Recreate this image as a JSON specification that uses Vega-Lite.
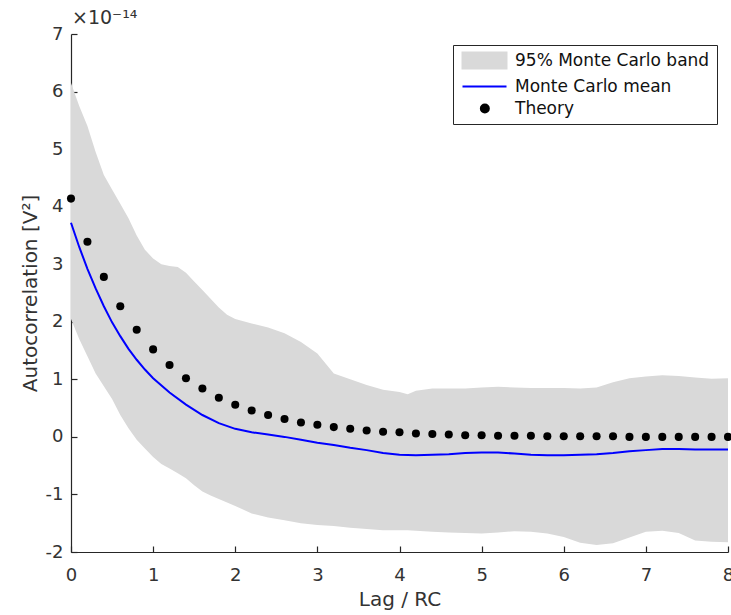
{
  "$schema": "https://vega.github.io/schema/vega-lite/v6.json",
  "width": 657,
  "height": 518,
  "autosize": "none",
  "padding": {"left": 71, "top": 34, "right": 3, "bottom": 63},
  "background": "white",
  "config": {
    "view": {"stroke": null},
    "font": "DejaVu Sans",
    "axis": {
      "domainColor": "#262626",
      "domainWidth": 1.2,
      "tickColor": "#262626",
      "tickWidth": 1.2,
      "tickSize": -6,
      "grid": false,
      "labelFlush": false,
      "labelOverlap": false,
      "labelFont": "DejaVu Sans",
      "labelFontSize": 18,
      "labelColor": "#333333",
      "titleFont": "DejaVu Sans",
      "titleFontSize": 20,
      "titleFontWeight": "normal",
      "titleColor": "#333333"
    }
  },
  "title": {
    "text": "×10⁻¹⁴",
    "anchor": "start",
    "frame": "group",
    "offset": 5,
    "dy": 8,
    "dx": 1,
    "fontSize": 19,
    "font": "DejaVu Sans",
    "fontWeight": "normal",
    "color": "#333333"
  },
  "datasets": {
    "band": [
      {"lag": 0, "lo": 2.05, "hi": 6.15},
      {"lag": 0.1, "lo": 1.7, "hi": 5.75},
      {"lag": 0.2, "lo": 1.4, "hi": 5.4},
      {"lag": 0.3, "lo": 1.1, "hi": 4.95},
      {"lag": 0.4, "lo": 0.88, "hi": 4.55},
      {"lag": 0.5, "lo": 0.66, "hi": 4.3},
      {"lag": 0.6, "lo": 0.38, "hi": 4.05},
      {"lag": 0.7, "lo": 0.15, "hi": 3.8},
      {"lag": 0.8, "lo": -0.05, "hi": 3.5},
      {"lag": 0.9, "lo": -0.2, "hi": 3.25},
      {"lag": 1.0, "lo": -0.35, "hi": 3.1},
      {"lag": 1.1, "lo": -0.47, "hi": 3.0},
      {"lag": 1.2, "lo": -0.55, "hi": 2.97},
      {"lag": 1.3, "lo": -0.63, "hi": 2.95},
      {"lag": 1.4, "lo": -0.72, "hi": 2.85},
      {"lag": 1.5, "lo": -0.84, "hi": 2.7},
      {"lag": 1.6, "lo": -0.95, "hi": 2.55},
      {"lag": 1.7, "lo": -1.02, "hi": 2.4},
      {"lag": 1.8, "lo": -1.08, "hi": 2.25},
      {"lag": 1.9, "lo": -1.14, "hi": 2.12},
      {"lag": 2.0, "lo": -1.2, "hi": 2.05},
      {"lag": 2.2, "lo": -1.33, "hi": 1.97},
      {"lag": 2.4, "lo": -1.4, "hi": 1.9},
      {"lag": 2.6, "lo": -1.45, "hi": 1.8},
      {"lag": 2.8, "lo": -1.5, "hi": 1.65},
      {"lag": 3.0, "lo": -1.53, "hi": 1.45},
      {"lag": 3.2, "lo": -1.55, "hi": 1.1},
      {"lag": 3.4, "lo": -1.58, "hi": 1.0},
      {"lag": 3.6, "lo": -1.6, "hi": 0.9},
      {"lag": 3.8, "lo": -1.62, "hi": 0.82},
      {"lag": 4.0, "lo": -1.62, "hi": 0.78},
      {"lag": 4.1, "lo": -1.62, "hi": 0.74},
      {"lag": 4.2, "lo": -1.63, "hi": 0.8},
      {"lag": 4.4, "lo": -1.65, "hi": 0.84},
      {"lag": 4.6, "lo": -1.66, "hi": 0.84},
      {"lag": 4.8, "lo": -1.67, "hi": 0.84},
      {"lag": 5.0, "lo": -1.68, "hi": 0.86},
      {"lag": 5.2, "lo": -1.66, "hi": 0.87},
      {"lag": 5.4, "lo": -1.64, "hi": 0.86},
      {"lag": 5.6, "lo": -1.65, "hi": 0.85},
      {"lag": 5.8, "lo": -1.68, "hi": 0.85},
      {"lag": 6.0, "lo": -1.74, "hi": 0.85},
      {"lag": 6.2, "lo": -1.84, "hi": 0.84},
      {"lag": 6.4, "lo": -1.88, "hi": 0.86},
      {"lag": 6.6, "lo": -1.85, "hi": 0.95},
      {"lag": 6.8, "lo": -1.75, "hi": 1.02},
      {"lag": 7.0, "lo": -1.65, "hi": 1.05},
      {"lag": 7.2, "lo": -1.63, "hi": 1.07},
      {"lag": 7.4, "lo": -1.67, "hi": 1.06},
      {"lag": 7.6, "lo": -1.8, "hi": 1.03},
      {"lag": 7.8, "lo": -1.82, "hi": 1.01},
      {"lag": 8.0, "lo": -1.83, "hi": 1.02}
    ],
    "mean": [
      {"lag": 0, "m": 3.72},
      {"lag": 0.1, "m": 3.3},
      {"lag": 0.2, "m": 2.92},
      {"lag": 0.3, "m": 2.58},
      {"lag": 0.4, "m": 2.27},
      {"lag": 0.5, "m": 1.99},
      {"lag": 0.6, "m": 1.75},
      {"lag": 0.7, "m": 1.53},
      {"lag": 0.8, "m": 1.34},
      {"lag": 0.9, "m": 1.17},
      {"lag": 1.0, "m": 1.02},
      {"lag": 1.2, "m": 0.77},
      {"lag": 1.4, "m": 0.56},
      {"lag": 1.6, "m": 0.38},
      {"lag": 1.8, "m": 0.24},
      {"lag": 2.0, "m": 0.14},
      {"lag": 2.2, "m": 0.08},
      {"lag": 2.4, "m": 0.04},
      {"lag": 2.6, "m": 0.0},
      {"lag": 2.8, "m": -0.05},
      {"lag": 3.0, "m": -0.1},
      {"lag": 3.2, "m": -0.14},
      {"lag": 3.4, "m": -0.19},
      {"lag": 3.6, "m": -0.23},
      {"lag": 3.8, "m": -0.28},
      {"lag": 4.0, "m": -0.31},
      {"lag": 4.2, "m": -0.32},
      {"lag": 4.4, "m": -0.31},
      {"lag": 4.6, "m": -0.3},
      {"lag": 4.8, "m": -0.28},
      {"lag": 5.0, "m": -0.27},
      {"lag": 5.2, "m": -0.27},
      {"lag": 5.4, "m": -0.29},
      {"lag": 5.6, "m": -0.31},
      {"lag": 5.8, "m": -0.32},
      {"lag": 6.0, "m": -0.32},
      {"lag": 6.2, "m": -0.31},
      {"lag": 6.4, "m": -0.3},
      {"lag": 6.6, "m": -0.28},
      {"lag": 6.8, "m": -0.25},
      {"lag": 7.0, "m": -0.23},
      {"lag": 7.2, "m": -0.21},
      {"lag": 7.4, "m": -0.21},
      {"lag": 7.6, "m": -0.22},
      {"lag": 7.8, "m": -0.22},
      {"lag": 8.0, "m": -0.22}
    ],
    "theory": [
      {"lag": 0, "t": 4.14},
      {"lag": 0.2, "t": 3.39},
      {"lag": 0.4, "t": 2.78},
      {"lag": 0.6, "t": 2.27},
      {"lag": 0.8, "t": 1.86},
      {"lag": 1.0, "t": 1.52},
      {"lag": 1.2, "t": 1.25},
      {"lag": 1.4, "t": 1.02},
      {"lag": 1.6, "t": 0.84},
      {"lag": 1.8, "t": 0.68},
      {"lag": 2.0, "t": 0.56},
      {"lag": 2.2, "t": 0.46},
      {"lag": 2.4, "t": 0.38},
      {"lag": 2.6, "t": 0.31},
      {"lag": 2.8, "t": 0.25},
      {"lag": 3.0, "t": 0.21},
      {"lag": 3.2, "t": 0.17},
      {"lag": 3.4, "t": 0.14},
      {"lag": 3.6, "t": 0.11},
      {"lag": 3.8, "t": 0.09},
      {"lag": 4.0, "t": 0.08},
      {"lag": 4.2, "t": 0.06},
      {"lag": 4.4, "t": 0.05},
      {"lag": 4.6, "t": 0.04},
      {"lag": 4.8, "t": 0.03},
      {"lag": 5.0, "t": 0.03},
      {"lag": 5.2, "t": 0.02},
      {"lag": 5.4, "t": 0.02},
      {"lag": 5.6, "t": 0.02},
      {"lag": 5.8, "t": 0.01},
      {"lag": 6.0, "t": 0.01},
      {"lag": 6.2, "t": 0.01},
      {"lag": 6.4, "t": 0.01},
      {"lag": 6.6, "t": 0.01},
      {"lag": 6.8, "t": 0.0},
      {"lag": 7.0, "t": 0.0},
      {"lag": 7.2, "t": 0.0},
      {"lag": 7.4, "t": 0.0},
      {"lag": 7.6, "t": 0.0},
      {"lag": 7.8, "t": 0.0},
      {"lag": 8.0, "t": 0.0}
    ]
  },
  "layer": [
    {
      "data": {"name": "band"},
      "mark": {"type": "area", "opacity": 1, "stroke": null},
      "encoding": {
        "x": {
          "field": "lag", "type": "quantitative",
          "scale": {"domain": [0, 8], "nice": false},
          "axis": {"title": "Lag / RC", "values": [0,1,2,3,4,5,6,7,8], "labelExpr": "'' + datum.value", "labelPadding": 20, "titlePadding": 5}
        },
        "y": {
          "field": "lo", "type": "quantitative",
          "scale": {"domain": [-2, 7], "nice": false, "zero": false},
          "axis": {"title": "Autocorrelation [V²]", "values": [-2,-1,0,1,2,3,4,5,6,7], "labelExpr": "'' + datum.value", "labelPadding": 14, "titlePadding": 5}
        },
        "y2": {"field": "hi"},
        "color": {
          "datum": "95% Monte Carlo band",
          "type": "nominal",
          "scale": {
            "domain": ["95% Monte Carlo band", "Monte Carlo mean", "Theory"],
            "range": ["#d9d9d9", "#0000ff", "#000000"]
          },
          "legend": {
            "title": null,
            "orient": "top-right",
            "offset": 11,
            "strokeColor": "#262626",
            "fillColor": "white",
            "padding": 7,
            "labelFont": "DejaVu Sans",
            "labelFontSize": 17,
            "labelColor": "#111111",
            "labelLimit": 400,
            "symbolSize": 100,
            "labelOffset": 38,
            "rowPadding": 4,
            "symbolStrokeWidth": 2,
            "encoding": {
              "symbols": {
                "shape": {"value": {"expr": "datum.value === 'Theory' ? 'M2.47,0A0.8,0.8,0,1,0,4.07,0A0.8,0.8,0,1,0,2.47,0Z' : datum.value === 'Monte Carlo mean' ? 'M-1.2,0H7.6' : 'M-1.2,-1.6H7.6V1.6H-1.2Z'"}},
                "fill": {"value": {"expr": "datum.value === 'Theory' ? '#000000' : datum.value === 'Monte Carlo mean' ? 'transparent' : '#d9d9d9'"}},
                "stroke": {"value": {"expr": "datum.value === 'Monte Carlo mean' ? '#0000ff' : 'transparent'"}},
                "strokeWidth": {"value": 2},
                "opacity": {"value": 1}
              }
            }
          }
        }
      }
    },
    {
      "data": {"name": "mean"},
      "mark": {"type": "line", "strokeWidth": 2},
      "encoding": {
        "x": {"field": "lag", "type": "quantitative"},
        "y": {"field": "m", "type": "quantitative"},
        "color": {"datum": "Monte Carlo mean", "type": "nominal"}
      }
    },
    {
      "data": {"name": "theory"},
      "mark": {"type": "point", "filled": true, "size": 65, "opacity": 1},
      "encoding": {
        "x": {"field": "lag", "type": "quantitative"},
        "y": {"field": "t", "type": "quantitative"},
        "color": {"datum": "Theory", "type": "nominal"}
      }
    }
  ]
}
